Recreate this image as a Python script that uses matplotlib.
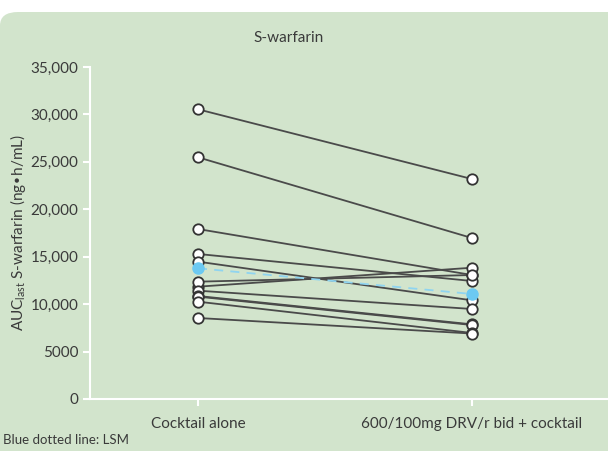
import numpy as np
import matplotlib
matplotlib.use('Agg')
import matplotlib.pyplot as plt
from matplotlib.patches import FancyBboxPatch

plt.rcParams['font.family'] = ['Lato', 'DejaVu Sans']

# data (ng*h/mL)
groups = ["Cocktail alone", "600/100mg DRV/r bid + cocktail"]
alone = [30540, 25480, 17920, 15290, 14480, 11840, 12370, 11420, 10860, 10790, 10260, 8540]
with_drv = [23190, 16970, 13070, 12440, 10400, 13840, 13070, 9490, 7870, 7800, 6960, 6900]
lsm = [13780, 11070]
yticks = [0, 5000, 10000, 15000, 20000, 25000, 30000, 35000]
ytick_labels = ["0", "5000", "10,000", "15,000", "20,000", "25,000", "30,000", "35,000"]

green = '#d2e4cc'
txt = '#3a3a3a'

fig = plt.figure(figsize=(6.08, 4.51), dpi=100)
fig.patch.set_facecolor('white')

# green panel with rounded top-left corner
panel = FancyBboxPatch((0.0, -0.1), 1.2, 1.1 - 12/451,
                       boxstyle='round,pad=0,rounding_size=0.03',
                       transform=fig.transFigure, facecolor=green,
                       edgecolor='none', zorder=-10)
fig.patches.append(panel)

ax = fig.add_axes([90/608, 52/451, 1 - 90/608, 332/451])
ax.set_facecolor('none')
ax.set_zorder(5)

x = [0, 1]
for a, b in zip(alone, with_drv):
    ax.plot(x, [a, b], color='#4a4a4a', lw=1.3, zorder=2)
ax.plot(x, lsm, color='#8fd4f0', lw=1.3, ls=(0, (5, 4)), zorder=2)

ax.plot([0] * len(alone), alone, 'o', ms=7.5, mfc='white', mec='#333333', mew=1.3, zorder=3)
ax.plot([1] * len(with_drv), with_drv, 'o', ms=7.5, mfc='white', mec='#333333', mew=1.3, zorder=3)
ax.plot(x, lsm, 'o', ms=8, color='#6cc9f2', mec='#6cc9f2', zorder=4)

ax.set_xlim(-108/274, 1 + 136/274)
ax.set_ylim(0, 35000)
ax.set_yticks(yticks)
ax.set_yticklabels(ytick_labels)
ax.set_xticks(x)
ax.set_xticklabels(groups)

for side in ['top', 'right']:
    ax.spines[side].set_visible(False)
for side in ['left', 'bottom']:
    ax.spines[side].set_color('white')
    ax.spines[side].set_linewidth(1.5)
ax.tick_params(colors='white', labelcolor=txt, labelsize=11, width=1.5, length=5)
ax.tick_params(axis='x', pad=8)

ax.set_ylabel(r'AUC$_{\mathregular{last}}$ S-warfarin (ng•h/mL)', color=txt, fontsize=11)
ax.yaxis.set_label_coords(-62/518, 0.5)

fig.text(289/608, 1 - 38/451, 'S-warfarin', ha='center', va='center', color=txt, fontsize=11)
fig.text(3/608, 1 - 440/451, 'Blue dotted line: LSM', ha='left', va='center', color=txt, fontsize=9.5)

fig.savefig('out.png', dpi=100, facecolor=fig.get_facecolor())
